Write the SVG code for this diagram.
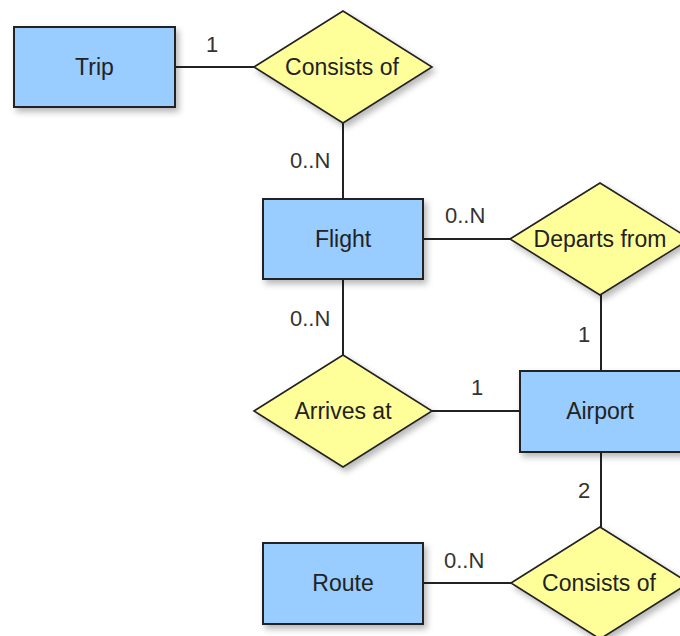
<svg xmlns="http://www.w3.org/2000/svg" width="680" height="636" viewBox="0 0 680 636">
<defs>
<filter id="sh" x="-10%" y="-10%" width="130%" height="140%">
<feDropShadow dx="3" dy="4" stdDeviation="3" flood-color="#000" flood-opacity="0.28"/>
</filter>
</defs>
<style>
.ent{fill:#99ccff;stroke:#222;stroke-width:2;filter:url(#sh)}
.rel{fill:#ffff99;stroke:#222;stroke-width:1.6;filter:url(#sh)}
.lbl{font-family:"Liberation Sans",Arial,sans-serif;font-size:23px;fill:#222;text-anchor:middle}
.card{font-family:"Liberation Sans",Arial,sans-serif;font-size:22px;fill:#333}
.edge{stroke:#222;stroke-width:2;fill:none}
</style>
<rect width="680" height="636" fill="#fff"/>
<g id="connectors">
<line class="edge" x1="175" y1="67" x2="254" y2="67"/>
<line class="edge" x1="343" y1="123" x2="343" y2="199"/>
<line class="edge" x1="423" y1="239" x2="510" y2="239"/>
<line class="edge" x1="601" y1="295" x2="601" y2="371"/>
<line class="edge" x1="343" y1="279" x2="343" y2="355"/>
<line class="edge" x1="432" y1="411" x2="520" y2="411"/>
<line class="edge" x1="601" y1="452" x2="601" y2="527"/>
<line class="edge" x1="423" y1="583" x2="511" y2="583"/>
<text class="card" x="212" y="52" text-anchor="middle">1</text>
<text class="card" x="290" y="168">0..N</text>
<text class="card" x="445" y="223">0..N</text>
<text class="card" x="584" y="342" text-anchor="middle">1</text>
<text class="card" x="290" y="326">0..N</text>
<text class="card" x="477" y="395" text-anchor="middle">1</text>
<text class="card" x="584" y="498" text-anchor="middle">2</text>
<text class="card" x="444" y="568">0..N</text>
</g>
<g id="trip">
<rect class="ent" x="14" y="27" width="161" height="80"/>
<text class="lbl" x="94.5" y="75">Trip</text>
</g>
<g id="consists1">
<polygon class="rel" points="254,67 343,11 432,67 343,123"/>
<text class="lbl" x="342" y="75">Consists of</text>
</g>
<g id="flight">
<rect class="ent" x="263" y="199" width="160" height="80"/>
<text class="lbl" x="343" y="247">Flight</text>
</g>
<g id="departs">
<polygon class="rel" points="510,239 600,183 690,239 600,295"/>
<text class="lbl" x="600" y="247">Departs from</text>
</g>
<g id="arrives">
<polygon class="rel" points="254,411 343,355 432,411 343,467"/>
<text class="lbl" x="343" y="419">Arrives at</text>
</g>
<g id="airport">
<rect class="ent" x="520" y="371" width="162" height="81"/>
<text class="lbl" x="600" y="419">Airport</text>
</g>
<g id="route">
<rect class="ent" x="263" y="543" width="160" height="81"/>
<text class="lbl" x="343" y="591">Route</text>
</g>
<g id="consists2">
<polygon class="rel" points="511,583 600,527 689,583 600,639"/>
<text class="lbl" x="599" y="591">Consists of</text>
</g>
</svg>
